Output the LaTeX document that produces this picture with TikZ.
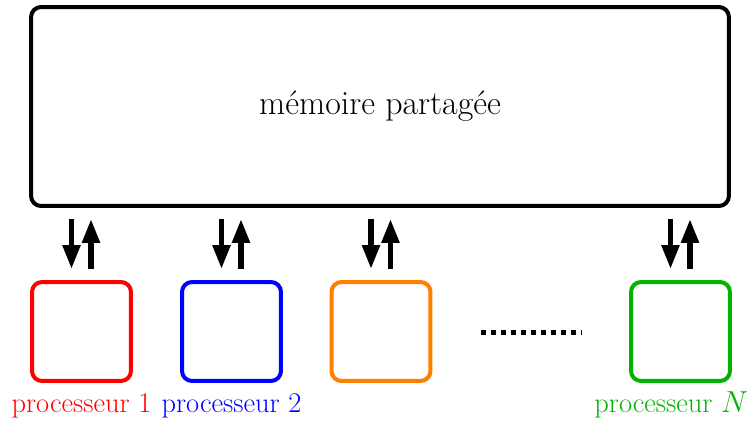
\documentclass[tikz,border=0pt]{standalone}
\usetikzlibrary{arrows.meta}

\definecolor{procorange}{RGB}{255,128,0}
\definecolor{procgreen}{RGB}{0,180,0}

\begin{document}
\begin{tikzpicture}[x=0.02cm,y=-0.02cm,
  box/.style={draw,line width=0.08cm,rounded corners=0.2cm,minimum width=1.98cm,minimum height=1.98cm},
  flow/.style={line width=0.11cm,-{Triangle[length=0.48cm,width=0.34cm]},shorten >=0.22cm,shorten <=0.22cm},
  tag/.style={anchor=base,inner sep=0pt,font=\fontsize{16.2}{19}\selectfont}]
\useasboundingbox (0,0) rectangle (751,423);
\node[draw,line width=0.08cm,rounded corners=0.2cm,minimum width=13.96cm,minimum height=3.98cm,
  font=\fontsize{19.3}{23}\selectfont] (mem) at (380,106.5) {mémoire partagée};
\node[box,red] (p1) at (81.5,331.5) {};
\node[box,blue] (p2) at (231.5,331.5) {};
\node[box,procorange] (p3) at (381,331.5) {};
\node[box,procgreen] (pN) at (680.5,331.5) {};
\draw[line width=0.1cm,dash pattern=on 0.1cm off 0.1cm] (481,332) -- (582,332);
\foreach \p in {p1,p2,p3,pN}{
  \draw[flow] ([xshift=-0.2cm]\p.north |- mem.south) -- ([xshift=-0.2cm]\p.north);
  \draw[flow] ([xshift=0.19cm]\p.north) -- ([xshift=0.19cm]\p.north |- mem.south);
}
\node[tag,red] (l1) at ([yshift=-0.59cm]p1.south) {processeur 1};
\node[tag,blue] (l2) at ([yshift=-0.59cm]p2.south) {processeur 2};
\node[tag,procgreen,anchor=base east] (lN) at ([xshift=1.36cm,yshift=-0.59cm]pN.south) {processeur $N$};
\end{tikzpicture}
\end{document}
